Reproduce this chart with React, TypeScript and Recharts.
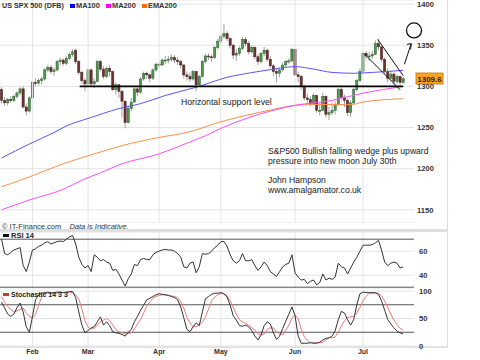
import React from 'react';
import {
  ComposedChart, Bar, Line, XAxis, YAxis, CartesianGrid, ReferenceLine, ReferenceDot,
} from 'recharts';

// US SPX 500 (DFB) daily candles, mid Jan - Jul 2011.
const opens = [
  1296, 1283, 1280, 1284, 1283, 1288, 1292, 1297, 1275, 1270,
  1286, 1305, 1304, 1307, 1309, 1320, 1323, 1318, 1320, 1330,
  1332, 1328, 1334, 1339, 1344, 1330, 1317, 1307, 1303, 1320,
  1303, 1306, 1330, 1321, 1312, 1322, 1318, 1296, 1302, 1294,
  1282, 1256, 1273, 1281, 1297, 1293, 1309, 1316, 1314, 1310,
  1320, 1327, 1326, 1332, 1332, 1333, 1335, 1332, 1330, 1326,
  1314, 1312, 1309, 1318, 1302, 1312, 1330, 1337, 1336, 1335,
  1347, 1355, 1361, 1364, 1358, 1350, 1338, 1340, 1346, 1357,
  1352, 1342, 1347, 1336, 1330, 1340, 1344, 1333, 1325, 1318,
  1316, 1320, 1326, 1330, 1331, 1345, 1314, 1312, 1300, 1286,
  1284, 1279, 1289, 1271, 1271, 1288, 1266, 1268, 1271, 1278,
  1296, 1287, 1283, 1268, 1280, 1296, 1307, 1318, 1340, 1337,
  1337, 1339, 1352, 1348, 1333, 1318, 1310, 1315, 1306, 1312,
  1305,
];
const highs = [
  1299, 1287, 1286, 1288, 1290, 1294, 1299, 1300, 1279, 1288,
  1307, 1310, 1310, 1312, 1322, 1326, 1326, 1323, 1332, 1335,
  1334, 1337, 1341, 1345, 1346, 1332, 1319, 1310, 1322, 1322,
  1310, 1332, 1332, 1325, 1324, 1326, 1319, 1305, 1303, 1296,
  1283, 1277, 1286, 1300, 1299, 1311, 1318, 1318, 1316, 1322,
  1329, 1330, 1334, 1337, 1337, 1339, 1338, 1336, 1332, 1327,
  1318, 1317, 1320, 1319, 1314, 1332, 1340, 1340, 1339, 1349,
  1358, 1363, 1376, 1367, 1360, 1352, 1345, 1349, 1360, 1360,
  1355, 1350, 1349, 1339, 1342, 1348, 1346, 1337, 1327, 1321,
  1323, 1329, 1332, 1334, 1347, 1346, 1318, 1314, 1302, 1291,
  1288, 1292, 1290, 1280, 1292, 1289, 1275, 1280, 1281, 1298,
  1299, 1290, 1285, 1283, 1298, 1309, 1322, 1342, 1343, 1342,
  1343, 1356, 1358, 1349, 1335, 1322, 1319, 1317, 1314, 1313,
  1312,
];
const lows = [
  1279, 1276, 1277, 1280, 1281, 1285, 1289, 1273, 1265, 1268,
  1284, 1300, 1301, 1302, 1307, 1317, 1315, 1313, 1318, 1326,
  1325, 1326, 1332, 1336, 1327, 1314, 1303, 1294, 1300, 1300,
  1298, 1305, 1318, 1309, 1310, 1312, 1294, 1290, 1286, 1262,
  1249, 1255, 1270, 1280, 1288, 1291, 1307, 1309, 1305, 1308,
  1318, 1322, 1325, 1327, 1328, 1330, 1328, 1326, 1322, 1310,
  1307, 1305, 1307, 1294, 1300, 1311, 1328, 1332, 1330, 1333,
  1345, 1352, 1358, 1355, 1346, 1333, 1331, 1337, 1344, 1349,
  1339, 1340, 1333, 1326, 1328, 1337, 1330, 1322, 1313, 1305,
  1311, 1318, 1323, 1327, 1329, 1313, 1305, 1296, 1283, 1280,
  1276, 1277, 1268, 1265, 1270, 1262, 1259, 1265, 1266, 1276,
  1285, 1275, 1264, 1263, 1278, 1294, 1305, 1316, 1333, 1331,
  1333, 1338, 1344, 1330, 1315, 1305, 1307, 1302, 1303, 1301,
  1303,
];
const closes = [
  1283, 1280, 1284, 1283, 1288, 1292, 1297, 1275, 1270, 1286,
  1305, 1304, 1307, 1309, 1320, 1323, 1318, 1320, 1330, 1332,
  1328, 1334, 1339, 1342, 1330, 1317, 1307, 1303, 1320, 1303,
  1306, 1330, 1321, 1312, 1322, 1318, 1296, 1302, 1294, 1282,
  1256, 1273, 1281, 1297, 1293, 1309, 1316, 1314, 1310, 1320,
  1327, 1326, 1332, 1332, 1333, 1335, 1332, 1330, 1326, 1314,
  1312, 1309, 1318, 1302, 1312, 1330, 1337, 1336, 1335, 1347,
  1355, 1361, 1364, 1358, 1350, 1338, 1340, 1346, 1357, 1352,
  1342, 1347, 1336, 1330, 1340, 1344, 1333, 1325, 1318, 1316,
  1320, 1326, 1330, 1331, 1345, 1314, 1312, 1300, 1286, 1284,
  1279, 1289, 1271, 1271, 1288, 1266, 1268, 1271, 1278, 1296,
  1287, 1283, 1268, 1280, 1296, 1307, 1318, 1340, 1337, 1337,
  1339, 1352, 1348, 1333, 1318, 1310, 1315, 1306, 1312, 1305,
  1309.6,
];

// moving averages, sampled at [candle index, value]
const ma100Pts = [
  [0, 1213], [9, 1230], [17, 1244], [21, 1252], [28, 1261], [38, 1273], [45, 1279],
  [53, 1289], [63, 1299], [73, 1311], [83, 1318], [88, 1321], [95, 1324], [101, 1321],
  [107, 1317], [114, 1316], [120, 1317], [130, 1319.5],
];
const ma200Pts = [
  [0, 1150], [9, 1162], [20, 1175], [26, 1186], [32, 1195], [39, 1206], [51, 1218],
  [60, 1231], [66, 1240], [71, 1249], [88, 1271], [95, 1277], [107, 1283], [116, 1291],
  [130, 1300],
];
const ema200Pts = [
  [0, 1178], [9, 1190], [20, 1206], [30, 1218], [39, 1228], [51, 1238], [60, 1244],
  [71, 1257], [88, 1272], [95, 1277], [101, 1278], [113, 1278], [117, 1281], [130, 1285],
];

const rsiValues = [
  70, 58, 57, 59, 61, 62, 63, 48, 43, 51,
  61, 62, 64, 65, 67, 68, 66, 67, 68, 68.5,
  68, 70, 72, 73, 66, 55, 49, 46, 48, 43,
  57, 55, 52, 53, 51, 50, 44, 45, 41, 36,
  31, 37, 41, 49, 48, 53, 54, 53, 53, 57,
  59, 60, 61, 61.5, 61, 61, 60, 58, 55, 47,
  46, 50, 51, 42, 47, 58, 57.5, 58, 60, 63,
  65, 68, 68, 64, 57, 52, 50, 52, 58, 52,
  52, 53, 48, 44, 47, 51, 48, 43, 41, 39,
  43, 47, 49, 50, 57, 42, 38.5, 36, 36.5, 33,
  35, 36, 32, 34, 41, 36, 37.5, 36.5, 38.5, 50,
  47, 46, 41, 46, 51, 55, 60, 65, 65, 65,
  65.5, 67, 69, 61, 51, 48, 50, 51, 50, 46,
  47,
];
const stochK = [
  80, 69, 58, 54, 58, 70, 78, 62, 35, 25,
  53, 84, 93, 96, 97, 98, 96, 97, 98, 98,
  97, 98, 99, 99, 88, 62, 38, 24, 28, 33,
  35, 44, 53, 38, 44, 37, 26, 24, 23, 21,
  18, 25, 30, 44, 54, 65, 74, 84, 87, 90,
  93, 95, 94, 93, 92, 90, 88, 84, 71, 51,
  30, 26, 35, 42, 37, 62, 86, 90, 94, 96,
  96, 97, 95, 89, 74, 55, 47, 37, 36, 38,
  35, 28, 18, 11, 20, 37, 44, 40, 24, 12,
  18, 32, 45, 58, 71, 55, 18, 5, 5, 5,
  6, 5, 5, 7, 11, 14, 15, 18, 28, 48,
  63, 60, 48, 38, 48, 75, 95, 98, 97, 97,
  97, 97, 94, 82, 65, 48, 40, 33, 27, 24,
  22,
];
const stochD = [
  90, 80, 72, 66, 62, 64, 66, 69, 60, 54,
  51, 57, 74, 89, 94, 96, 96, 96, 96, 97,
  97, 97, 97, 97, 93, 86, 67, 46, 34, 31,
  32, 38, 44, 47, 50, 46, 38, 30, 26, 24,
  22, 22, 24, 31, 40, 48, 60, 72, 80, 87,
  90, 92, 93, 93, 92, 91, 90, 88, 80, 69,
  52, 42, 35, 35, 38, 43, 53, 67, 82, 89,
  93, 96, 95, 92, 82, 70, 58, 48, 44, 41,
  38, 33, 29, 22, 20, 22, 30, 33, 33, 26,
  22, 20, 29, 38, 51, 56, 50, 30, 17, 10,
  6, 6, 6, 6, 7, 11, 15, 15, 16, 26,
  36, 46, 52, 53, 54, 60, 70, 82, 90, 96,
  96, 96, 96, 91, 82, 70, 58, 47, 39, 32,
  29,
];

const monthTicks = [10, 28, 51, 71, 95, 117];
const monthLabels = ['Feb', 'Mar', 'Apr', 'May', 'Jun', 'Jul'];
const priceTicks = [1150, 1200, 1250, 1300, 1350, 1400];
const rsiTicks = [40, 60];
const rsiBands = [70, 30];
const stochTicks = [0, 50, 100];
const stochBands = [75, 25];
const lastPrice = 1309.6;

// hand-drawn annotations (candle index / price)
const supportLine = [{ x: 25.3, y: 1300 }, { x: 130, y: 1300 }];
const wedgeUpper = [{ x: 121.8, y: 1357 }, { x: 130, y: 1313 }];
const wedgeLower = [{ x: 117.3, y: 1340 }, { x: 129, y: 1296 }];
const arrowShaft = [{ x: 130.4, y: 1327 }, { x: 132.6, y: 1352 }];
const arrowBarbA = [{ x: 132.6, y: 1352 }, { x: 131.2, y: 1351 }];
const arrowBarbB = [{ x: 132.6, y: 1352 }, { x: 132.4, y: 1345 }];
const target = { x: 133.5, y: 1368 };

const sampled = (pts: number[][], i: number) => {
  const hit = pts.find((p) => p[0] === i);
  return hit ? hit[1] : null;
};

const rows = closes.map((c, i) => ({
  i, o: opens[i], h: highs[i], l: lows[i], c,
  range: [lows[i], highs[i]],
  ma100: sampled(ma100Pts, i), ma200: sampled(ma200Pts, i), ema200: sampled(ema200Pts, i),
  rsi: rsiValues[i], k: stochK[i], d: stochD[i],
}));

const X_DOMAIN: [number, number] = [-0.5, 133.5];
const GRID = '#e4e4e4';
const FONT = "'Liberation Sans', Arial, sans-serif";
const TICK = { fontSize: 7.6, fill: '#333', fontWeight: 'bold' as const };

const Candle = (props: any) => {
  const { x, y, width, height, payload } = props;
  if (x == null || !payload) return null;
  const { o, h, l, c } = payload;
  const cx = x + width / 2;
  const k = h === l ? 0 : height / (h - l);
  const yO = y + (h - o) * k;
  const yC = y + (h - c) * k;
  const up = c >= o;
  return (
    <g>
      <line x1={cx} x2={cx} y1={y} y2={y + height} stroke="#a0a0a0" strokeWidth={1} />
      <rect
        x={cx - 1.1} y={Math.min(yO, yC)} width={2.2} height={Math.max(1, Math.abs(yO - yC))}
        fill={up ? '#4a9a48' : '#6e2f2f'} stroke={up ? '#2c5a2a' : '#461c1c'} strokeWidth={0.5}
      />
    </g>
  );
};

const PriceTag = (props: any) => {
  const vb = props.viewBox;
  if (!vb) return null;
  const x = vb.x + vb.width + 2;
  return (
    <g>
      <rect x={x} y={vb.y - 5.5} width={27} height={11} fill="#ffa41c" stroke="#b8740c" strokeWidth={0.8} />
      <text x={x + 13.5} y={vb.y + 3} textAnchor="middle" fontSize={8} fontWeight="bold" fill="#222">
        {lastPrice.toFixed(1)}
      </text>
    </g>
  );
};

const monthLines = () =>
  monthTicks.map((t) => <ReferenceLine key={t} x={t} stroke={GRID} />);

const maLine = (key: string, color: string) => (
  <Line
    dataKey={key} type="monotone" stroke={color} strokeWidth={1} connectNulls
    dot={false} activeDot={false} isAnimationActive={false}
  />
);

function MainPanel() {
  return (
    <ComposedChart width={480} height={223} data={rows} margin={{ top: 0, right: 33, bottom: 0, left: 0 }}>
      <CartesianGrid vertical={false} stroke={GRID} />
      {monthLines()}
      <XAxis type="number" dataKey="i" domain={X_DOMAIN} ticks={monthTicks} hide allowDataOverflow />
      <YAxis
        orientation="right" domain={[1134, 1405]} ticks={priceTicks} width={33} allowDataOverflow
        tickLine={false} axisLine={false} tickSize={0} tickMargin={3} tick={TICK}
      />
      {maLine('ema200', '#ff8f4a')}
      {maLine('ma200', '#ff4dff')}
      {maLine('ma100', '#5656ff')}
      <Bar dataKey="range" barSize={3} shape={(p: any) => <Candle {...p} />} isAnimationActive={false} />
      <ReferenceLine segment={supportLine} stroke="#000" strokeWidth={1.7} />
      <ReferenceLine segment={wedgeUpper} stroke="#111" strokeWidth={1} />
      <ReferenceLine segment={wedgeLower} stroke="#111" strokeWidth={1} />
      <ReferenceLine segment={arrowShaft} stroke="#111" strokeWidth={1} ifOverflow="visible" />
      <ReferenceLine segment={arrowBarbA} stroke="#111" strokeWidth={1} ifOverflow="visible" />
      <ReferenceLine segment={arrowBarbB} stroke="#111" strokeWidth={1} ifOverflow="visible" />
      <ReferenceDot x={target.x} y={target.y} r={7.5} fill="none" stroke="#111" strokeWidth={1.3} ifOverflow="visible" />
      <ReferenceLine y={lastPrice} stroke="none" label={(p: any) => <PriceTag {...p} />} />
    </ComposedChart>
  );
}

function RsiPanel() {
  return (
    <ComposedChart width={480} height={62} data={rows} margin={{ top: 5, right: 33, bottom: 0, left: 0 }}>
      <CartesianGrid vertical={false} stroke={GRID} />
      {monthLines()}
      <XAxis type="number" dataKey="i" domain={X_DOMAIN} ticks={monthTicks} hide allowDataOverflow />
      <YAxis
        orientation="right" domain={[28.5, 76]} ticks={rsiTicks} width={33} allowDataOverflow
        tickLine={false} axisLine={false} tickSize={0} tickMargin={5} tick={TICK}
      />
      {rsiBands.map((b) => <ReferenceLine key={b} y={b} stroke="#555" strokeWidth={1} />)}
      <Line dataKey="rsi" type="linear" stroke="#333" strokeWidth={1} dot={false} activeDot={false} isAnimationActive={false} />
    </ComposedChart>
  );
}

function StochPanel() {
  return (
    <ComposedChart width={480} height={74} data={rows} margin={{ top: 5, right: 33, bottom: 0, left: 0 }}>
      <CartesianGrid vertical={false} stroke={GRID} />
      {monthLines()}
      <XAxis
        type="number" dataKey="i" domain={X_DOMAIN} ticks={monthTicks} interval={0} height={14} allowDataOverflow
        tickFormatter={(v: number) => monthLabels[monthTicks.indexOf(v)] ?? ''}
        tickLine={false} axisLine={false} tickSize={0} tickMargin={3} tick={{ ...TICK, fontSize: 7 }}
      />
      <YAxis
        orientation="right" domain={[0, 100]} ticks={stochTicks} width={33} allowDataOverflow
        tickLine={false} axisLine={false} tickSize={0} tickMargin={5} tick={TICK}
      />
      {stochBands.map((b) => <ReferenceLine key={b} y={b} stroke="#555" strokeWidth={1} />)}
      <Line dataKey="d" type="linear" stroke="#f07a7a" strokeWidth={1} dot={false} activeDot={false} isAnimationActive={false} />
      <Line dataKey="k" type="linear" stroke="#333" strokeWidth={1} dot={false} activeDot={false} isAnimationActive={false} />
    </ComposedChart>
  );
}

const abs = (left: number, top: number, extra: React.CSSProperties = {}): React.CSSProperties => ({
  position: 'absolute', left, top, ...extra,
});
const swatch = (color: string, left: number, top: number, w = 5, h = 4) => (
  <div style={abs(left, top, { width: w, height: h, background: color })} />
);

export default function App() {
  return (
    <div style={{ position: 'absolute', left: 0, top: 0, width: 480, height: 360, background: '#fff', overflow: 'hidden', fontFamily: FONT, color: '#222' }}>
      <div style={abs(447, 0, { width: 1, height: 347, background: '#dcdcdc' })} />
      <div style={abs(0, 229, { width: 448, height: 3, background: '#dedede' })} />
      <div style={abs(0, 346, { width: 448, height: 2, background: '#e2e2e2' })} />
      <div style={abs(0, 0)}><MainPanel /></div>
      <div style={abs(0, 227)}><RsiPanel /></div>
      <div style={abs(0, 286)}><StochPanel /></div>

      <div style={abs(2, 1, { fontSize: 7.2, fontWeight: 'bold', lineHeight: '10px', whiteSpace: 'nowrap', color: '#333' })}>US SPX 500 (DFB)</div>
      {swatch('#0000ff', 70, 4)}
      <div style={abs(76, 1, { fontSize: 7.4, fontWeight: 'bold', lineHeight: '10px', color: '#333' })}>MA100</div>
      {swatch('#ff00ff', 106, 4)}
      <div style={abs(112, 1, { fontSize: 7.4, fontWeight: 'bold', lineHeight: '10px', color: '#333' })}>MA200</div>
      {swatch('#ff6a00', 142, 4)}
      <div style={abs(148, 1, { fontSize: 7.4, fontWeight: 'bold', lineHeight: '10px', color: '#333' })}>EMA200</div>

      <div style={abs(181, 97, { fontSize: 8.7, lineHeight: '10px', whiteSpace: 'nowrap' })}>Horizontal support level</div>
      <div style={abs(268, 147, { fontSize: 8.6, lineHeight: '9.8px', whiteSpace: 'nowrap' })}>
        S&amp;P500 Bullish falling wedge plus upward<br />pressure into new moon July 30th
      </div>
      <div style={abs(268, 176, { fontSize: 8.6, lineHeight: '9.5px', whiteSpace: 'nowrap' })}>
        John Hampson<br />www.amalgamator.co.uk
      </div>

      <div style={abs(2, 222, { fontSize: 7.5, lineHeight: '10px', whiteSpace: 'nowrap', color: '#333' })}>
        © IT-Finance.com <span style={{ marginLeft: 6, fontStyle: 'italic' }}>Data is Indicative.</span>
      </div>

      {swatch('#111', 3, 234, 6, 3)}
      <div style={abs(11, 231, { fontSize: 7.5, fontWeight: 'bold', lineHeight: '9px', color: '#222' })}>RSI 14</div>
      {swatch('#e03030', 3, 293, 6, 3)}
      <div style={abs(11, 290, { fontSize: 7, fontWeight: 'bold', lineHeight: '9px', color: '#222' })}>Stochastic 14 3 3</div>
    </div>
  );
}
